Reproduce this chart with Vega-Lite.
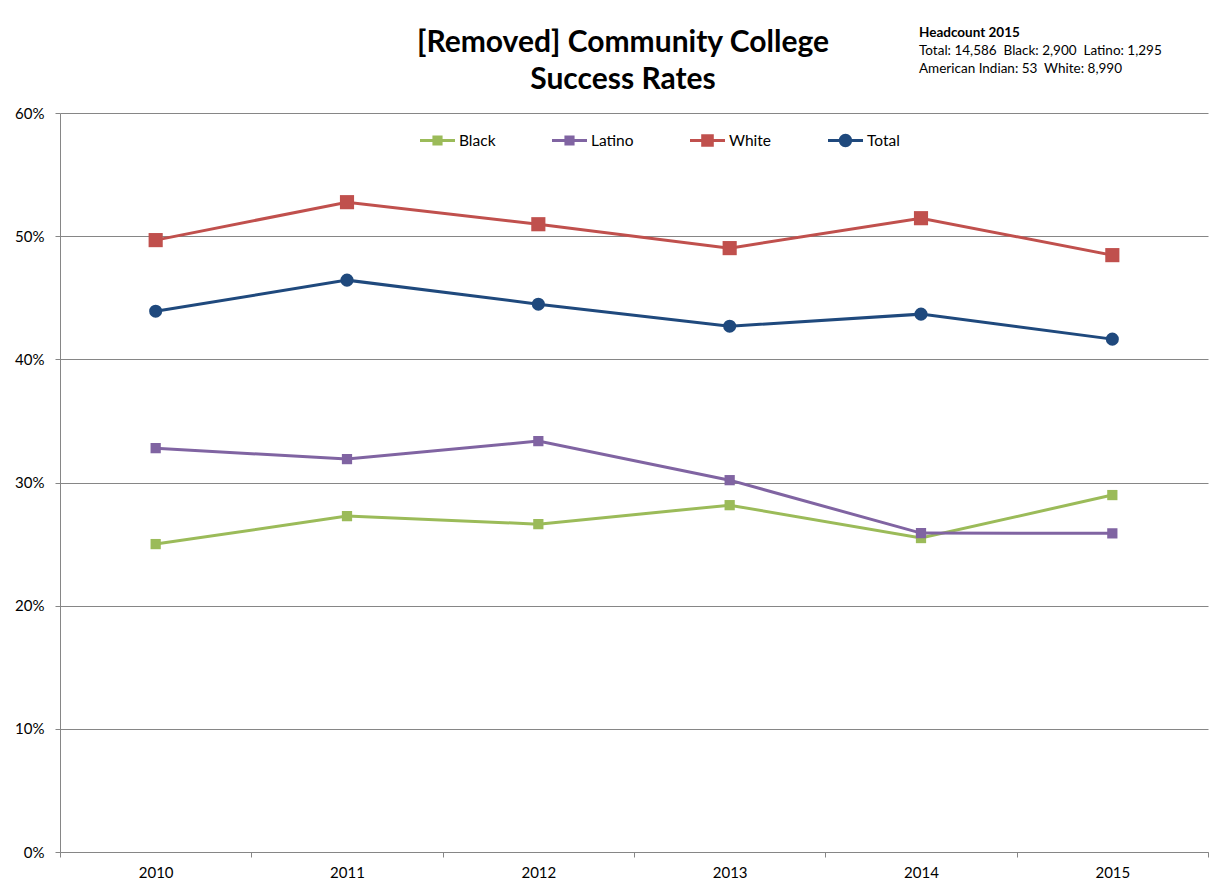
{
  "$schema": "https://vega.github.io/schema/vega-lite/v6.json",
  "width": 1148,
  "height": 739,
  "autosize": "none",
  "padding": {"left": 60, "top": 113, "right": 13, "bottom": 39},
  "background": "white",
  "title": {
    "text": ["[Removed] Community College", "Success Rates"],
    "font": "Lato",
    "fontSize": 30,
    "fontWeight": "bold",
    "color": "#000000",
    "lineHeight": 37,
    "anchor": "middle",
    "dx": -11,
    "offset": -69
  },
  "data": {
    "values": [
      {"year": "2010", "series": "Black", "rate": 0.2500},
      {"year": "2011", "series": "Black", "rate": 0.2727},
      {"year": "2012", "series": "Black", "rate": 0.2662},
      {"year": "2013", "series": "Black", "rate": 0.2816},
      {"year": "2014", "series": "Black", "rate": 0.2549},
      {"year": "2015", "series": "Black", "rate": 0.2898},
      {"year": "2010", "series": "Latino", "rate": 0.3279},
      {"year": "2011", "series": "Latino", "rate": 0.3190},
      {"year": "2012", "series": "Latino", "rate": 0.3336},
      {"year": "2013", "series": "Latino", "rate": 0.3019},
      {"year": "2014", "series": "Latino", "rate": 0.2589},
      {"year": "2015", "series": "Latino", "rate": 0.2587},
      {"year": "2010", "series": "White", "rate": 0.4968},
      {"year": "2011", "series": "White", "rate": 0.5276},
      {"year": "2012", "series": "White", "rate": 0.5097},
      {"year": "2013", "series": "White", "rate": 0.4903},
      {"year": "2014", "series": "White", "rate": 0.5146},
      {"year": "2015", "series": "White", "rate": 0.4846},
      {"year": "2010", "series": "Total", "rate": 0.4391},
      {"year": "2011", "series": "Total", "rate": 0.4643},
      {"year": "2012", "series": "Total", "rate": 0.4448},
      {"year": "2013", "series": "Total", "rate": 0.4269},
      {"year": "2014", "series": "Total", "rate": 0.4367},
      {"year": "2015", "series": "Total", "rate": 0.4164}
    ]
  },
  "encoding": {
    "x": {
      "field": "year",
      "type": "nominal",
      "scale": {"paddingInner": 0, "paddingOuter": 0},
      "axis": {
        "title": null,
        "labelAngle": 0,
        "tickBand": "extent",
        "labelFont": "Lato",
        "labelFontSize": 15,
        "labelColor": "#000000",
        "labelPadding": 8,
        "tickSize": 5,
        "tickColor": "#868686",
        "domainColor": "#868686",
        "grid": false
      }
    },
    "y": {
      "field": "rate",
      "type": "quantitative",
      "scale": {"domain": [0, 0.6], "nice": false, "zero": true},
      "axis": {
        "title": null,
        "format": ".0%",
        "values": [0, 0.1, 0.2, 0.3, 0.4, 0.5, 0.6],
        "labelFont": "Lato",
        "labelFontSize": 15,
        "labelColor": "#000000",
        "labelPadding": 11,
        "tickSize": 5,
        "tickColor": "#868686",
        "domainColor": "#868686",
        "gridColor": "#868686",
        "grid": true
      }
    },
    "color": {
      "field": "series",
      "type": "nominal",
      "sort": ["Black", "Latino", "White", "Total"],
      "scale": {
        "domain": ["Black", "Latino", "White", "Total"],
        "range": ["#9BBB59", "#8064A2", "#C0504D", "#1F497D"]
      },
      "legend": {
        "orient": "none",
        "legendX": 360,
        "legendY": 10,
        "direction": "horizontal",
        "title": null,
        "symbolSize": 1225,
        "symbolStrokeWidth": 0,
        "labelFont": "Lato",
        "labelFontSize": 15.5,
        "labelColor": "#000000",
        "labelOffset": 4,
        "columnPadding": 56,
        "encode": {
          "symbols": {
            "update": {
              "shape": {"signal": "datum.value === 'Total' ? 'M-1,-0.09H1V0.09H-1Z M-0.38,0A0.38,0.38,0,1,1,0.38,0A0.38,0.38,0,1,1,-0.38,0Z' : (datum.value === 'White' ? 'M-1,-0.09H1V0.09H-1Z M-0.36,-0.36H0.36V0.36H-0.36Z' : 'M-1,-0.09H1V0.09H-1Z M-0.29,-0.29H0.29V0.29H-0.29Z')"},
              "size": {"value": 1225},
              "fill": {"scale": "color", "field": "value"},
              "fillOpacity": {"value": 1},
              "strokeWidth": {"value": 0}
            }
          }
        }
      }
    }
  },
  "layer": [
    {
      "mark": {"type": "line", "strokeWidth": 3},
      "encoding": {}
    },
    {
      "transform": [{"filter": "datum.series === 'Black' || datum.series === 'Latino'"}],
      "mark": {"type": "point", "shape": "square", "size": 105, "filled": true, "opacity": 1}
    },
    {
      "transform": [{"filter": "datum.series === 'White'"}],
      "mark": {"type": "point", "shape": "square", "size": 200, "filled": true, "opacity": 1}
    },
    {
      "transform": [{"filter": "datum.series === 'Total'"}],
      "mark": {"type": "point", "shape": "circle", "size": 170, "filled": true, "opacity": 1}
    },
    {
      "transform": [{"filter": "datum.series === 'Total' && datum.year === '2015'"}],
      "mark": {"type": "text", "align": "left", "baseline": "middle", "font": "Lato", "fontSize": 13.5, "fontWeight": "bold", "dx": -2},
      "encoding": {
        "x": {"datum": "2014"},
        "y": {"datum": 0.6648},
        "text": {"value": "Headcount 2015"},
        "color": {"value": "#000000"}
      }
    },
    {
      "transform": [{"filter": "datum.series === 'Total' && datum.year === '2015'"}],
      "mark": {"type": "text", "align": "left", "baseline": "middle", "font": "Lato", "fontSize": 13.5, "dx": -2},
      "encoding": {
        "x": {"datum": "2014"},
        "y": {"datum": 0.6502},
        "text": {"value": "Total: 14,586 \u00a0Black: 2,900 \u00a0Latino: 1,295"},
        "color": {"value": "#000000"}
      }
    },
    {
      "transform": [{"filter": "datum.series === 'Total' && datum.year === '2015'"}],
      "mark": {"type": "text", "align": "left", "baseline": "middle", "font": "Lato", "fontSize": 13.5, "dx": -2},
      "encoding": {
        "x": {"datum": "2014"},
        "y": {"datum": 0.6356},
        "text": {"value": "American Indian: 53 \u00a0White: 8,990"},
        "color": {"value": "#000000"}
      }
    }
  ],
  "config": {
    "view": {"stroke": null}
  }
}
